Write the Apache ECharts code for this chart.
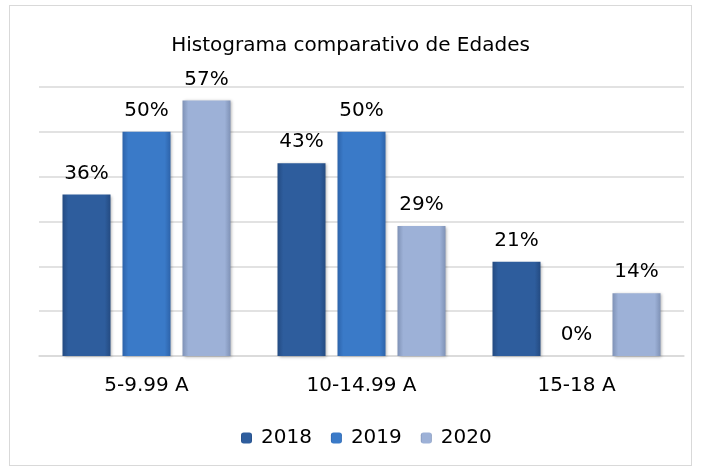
<!DOCTYPE html>
<html>
<head>
<meta charset="utf-8">
<script src="https://cdn.jsdelivr.net/npm/echarts@6/dist/echarts.min.js"></script>
<style>
  html, body { margin: 0; padding: 0; background: #fff; }
  #wrap { position: absolute; left: 9px; top: 5px; width: 681px; height: 459px; border: 1px solid #d9d9d9; }
  #chart { width: 681px; height: 459px; }
</style>
</head>
<body>
<div id="wrap"><div id="chart"></div></div>
<script>
// categorías y valores (%)
const categories = ['5-9.99 A', '10-14.99 A', '15-18 A'];
const years = ['2018', '2019', '2020'];
const v2018 = [36, 43, 21];
const v2019 = [50, 50, 0];
const v2020 = [57, 29, 14];

// degradado horizontal para imitar el bisel de Excel
const barColor = (edge, mid) => ({
  type: 'linear', x: 0, y: 0, x2: 1, y2: 0,
  colorStops: [
    { offset: 0, color: edge },
    { offset: 0.12, color: mid },
    { offset: 0.88, color: mid },
    { offset: 1, color: edge }
  ]
});

const colors = [
  barColor('#244b82', '#2e5d9d'),
  barColor('#2d63aa', '#3a7ac8'),
  barColor('#7f92b6', '#9db1d7')
];

const seriesData = [v2018, v2019, v2020];

const chart = echarts.init(document.getElementById('chart'));
chart.setOption({
  animation: false,
  textStyle: { fontFamily: 'DejaVu Sans' },
  title: {
    text: 'Histograma comparativo de Edades',
    left: 'center',
    top: 25,
    textStyle: { fontSize: 20, fontWeight: 'normal', color: '#000', fontFamily: 'DejaVu Sans' }
  },
  legend: {
    data: years,
    left: 226,
    bottom: 12,
    itemWidth: 11,
    itemHeight: 11,
    itemGap: 19,
    textStyle: { fontSize: 20, color: '#000', fontFamily: 'DejaVu Sans', padding: [0, 0, 0, 4] }
  },
  grid: { left: 29, right: 7, top: 81, bottom: 109 },
  xAxis: {
    type: 'category',
    data: categories,
    axisTick: { show: false },
    axisLine: { lineStyle: { color: '#d9d9d9', width: 1.5 } },
    axisLabel: { fontSize: 20, color: '#000', margin: 20, fontFamily: 'DejaVu Sans' }
  },
  yAxis: {
    type: 'value',
    min: 0,
    max: 60,
    interval: 10,
    axisLabel: { show: false },
    splitLine: { lineStyle: { color: '#d9d9d9', width: 1.5 } }
  },
  series: years.map((y, i) => ({
    name: y,
    type: 'bar',
    data: seriesData[i],
    barWidth: 48,
    barGap: '25%',
    itemStyle: {
      color: colors[i],
      shadowColor: 'rgba(0,0,0,0.3)',
      shadowBlur: 3,
      shadowOffsetX: 1,
      shadowOffsetY: 1
    },
    label: {
      show: true,
      position: 'top',
      distance: 11,
      formatter: '{c}%',
      fontSize: 20,
      color: '#000',
      fontFamily: 'DejaVu Sans'
    }
  }))
});
</script>
</body>
</html>
